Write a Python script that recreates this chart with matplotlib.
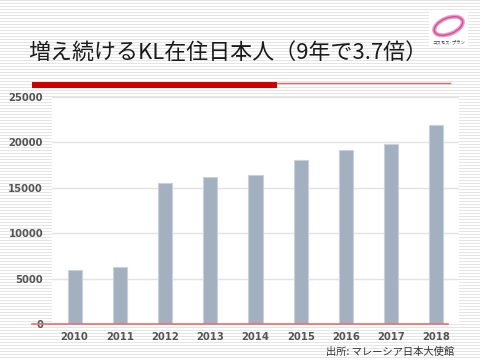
import numpy as np
import matplotlib
matplotlib.use("Agg")
import matplotlib.pyplot as plt
from matplotlib.patches import Rectangle, Ellipse
from matplotlib.lines import Line2D

years = ["2010", "2011", "2012", "2013", "2014", "2015", "2016", "2017", "2018"]
residents = [5950, 6240, 15530, 16150, 16370, 18060, 19140, 19850, 21880]
yticks = [0, 5000, 10000, 15000, 20000, 25000]
title = "増え続けるKL在住日本人（9年で3.7倍）"
source = "出所: マレーシア日本大使館"
logo_text = "コスモス･プラン"

W, H = 480, 360
fig = plt.figure(figsize=(W / 100, H / 100), dpi=100)
fig.patch.set_facecolor("white")

# striped background
bg = np.ones((H, W, 3))
bg[::3, :, :] = 0.90
fig.figimage(bg, xo=0, yo=0, zorder=-10)

def fx(px):
    return px / W

def fy(py):
    return 1 - py / H

jp = ["Noto Sans CJK JP", "DejaVu Sans"]

# title
fig.text(fx(28), fy(53), title, fontsize=15.8, family=jp, color="#1a1a1a", va="center", ha="left")

# red underline bar
fig.patches.append(Rectangle((fx(32), fy(88)), fx(277) - fx(32), fy(82) - fy(88),
                             transform=fig.transFigure, facecolor="#cc0000", edgecolor="none", zorder=3))
fig.lines.append(Line2D([fx(277), fx(450)], [fy(82.5), fy(82.5)], transform=fig.transFigure,
                        color="#e06a6a", linewidth=1.0, zorder=3))

# logo
lax = fig.add_axes([fx(429), fy(47), fx(468) - fx(429), fy(11) - fy(47)], zorder=6)
lax.set_facecolor("white")
lax.set_xlim(0, 39)
lax.set_ylim(36, 0)
lax.set_xticks([])
lax.set_yticks([])
for s in lax.spines.values():
    s.set_visible(False)
lax.add_patch(Ellipse((19.5, 15), 30, 16, angle=-22, facecolor="none", edgecolor="#ec9ac6", linewidth=3.0))
lax.add_patch(Ellipse((19.5, 15), 30, 16, angle=-22, facecolor="none", edgecolor="#d94c98", linewidth=1.0))
lax.text(19.5, 31, logo_text, fontsize=3.2, family=jp, ha="center", va="center", color="#333333")

# chart
ax = fig.add_axes([fx(52), fy(324), fx(459) - fx(52), fy(97) - fy(324)])
ax.set_facecolor("white")
x = np.arange(len(years))
ax.bar(x, residents, width=0.31, color="#a2b0bf", edgecolor="#c9d1db", linewidth=0.8, zorder=3)
ax.set_xlim(-0.5, len(years) - 0.5)
ax.set_ylim(0, 25000)
ax.set_yticks(yticks)
ax.set_yticklabels([str(v) for v in yticks])
ax.set_xticks(x)
ax.set_xticklabels(years)
for t in yticks[1:]:
    ax.axhline(t, color="#e3e3e3", linewidth=1.0, zorder=1)
for s in ax.spines.values():
    s.set_visible(False)
ax.tick_params(axis="both", length=0, labelsize=7.2, labelcolor="#555555")
ax.tick_params(axis="y", pad=6.5)
ax.tick_params(axis="x", pad=6)
for lab in ax.get_xticklabels() + ax.get_yticklabels():
    lab.set_fontweight("bold")

# zero line
fig.lines.append(Line2D([fx(32), fx(448)], [fy(324), fy(324)], transform=fig.transFigure,
                        color="#e87070", linewidth=1.2, zorder=5))

# source
fig.text(fx(454), fy(352), source, fontsize=7.4, family=jp, color="#333333", ha="right", va="center")

fig.savefig("out.png", dpi=100, facecolor=fig.get_facecolor())
